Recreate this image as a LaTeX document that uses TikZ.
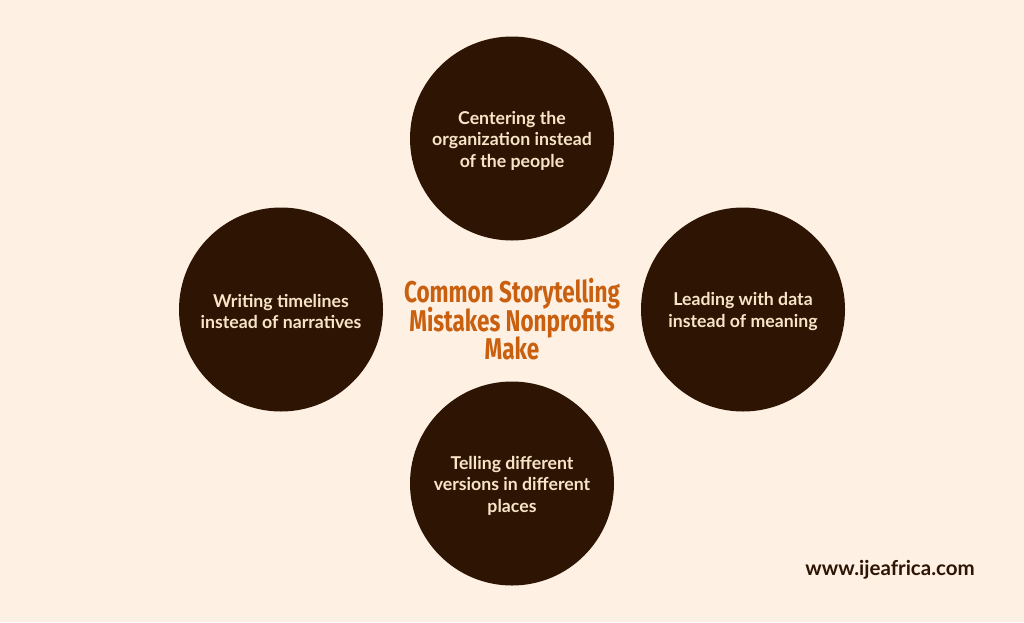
\documentclass[tikz,border=0pt]{standalone}
\usepackage{fontspec}
\setmainfont{Lato}
\newfontfamily\titlefont[FakeStretch=0.75]{Fira Sans}
\usepackage{xcolor}
\usetikzlibrary{positioning}
\definecolor{PageCream}{HTML}{FEF0E3}
\definecolor{DarkBrown}{HTML}{2E1503}
\definecolor{LabelCream}{HTML}{F9E4C8}
\definecolor{TitleOrange}{HTML}{C9600F}

\begin{document}
\begin{tikzpicture}[x=1pt,y=-1pt,
  mistake/.style={circle, fill=DarkBrown, minimum size=204pt, inner sep=0pt},
  mistaketext/.style={text=LabelCream, align=center, yshift=-2pt, font=\fontsize{17.7}{21.5}\selectfont\bfseries},
  heading/.style={text=TitleOrange, align=center, font=\titlefont\fontsize{30}{28.5}\selectfont\bfseries, execute at begin node={\setlength{\lineskiplimit}{-20pt}}},
  weblabel/.style={text=DarkBrown, font=\fontsize{20.5}{22}\selectfont\bfseries}
]

% Background
\fill[PageCream] (0,0) rectangle (1024,622);

% Circles
\node[mistake, label={[mistaketext]center:{Centering the\\organization instead\\of the people}}] (top) at (512,138.5) {};
\node[mistake, label={[mistaketext]center:{Writing timelines\\instead of narratives}}] (left) at (281,309.5) {};
\node[mistake, label={[mistaketext]center:{Leading with data\\instead of meaning}}] (right) at (743,309.5) {};
\node[mistake, label={[mistaketext]center:{Telling different\\versions in different\\places}}] (bottom) at (512,483.5) {};

% Title
\node[heading] (title) at (512,319.5) {Common Storytelling\\Mistakes Nonprofits\\Make};

% Web address
\node[weblabel] (web) at (890,570) {www.ijeafrica.com};

\end{tikzpicture}
\end{document}
